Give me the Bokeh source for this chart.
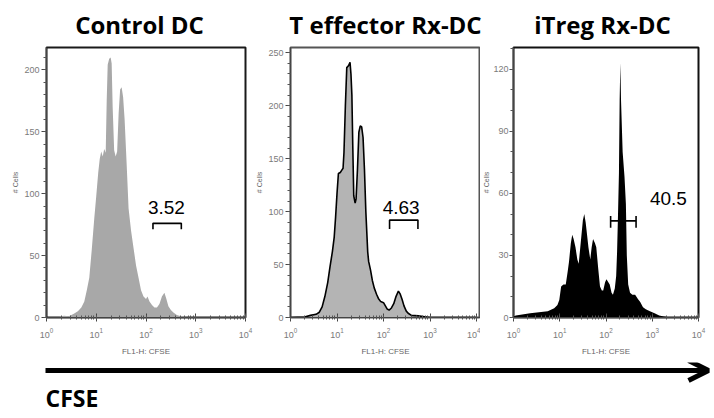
import numpy as np
from bokeh.plotting import figure
from bokeh.layouts import row, column
from bokeh.models import Range1d, FixedTicker, Arrow, OpenHead
from bokeh.core.properties import value
from bokeh.embed import file_html
from bokeh.resources import INLINE

# ---------------- data ----------------
titles = ["Control DC", "T effector Rx-DC", "iTreg Rx-DC"]
gate_pcts = ["3.52", "4.63", "40.5"]
x_label = "FL1-H: CFSE"
y_label = "# Cells"
bottom_label = "CFSE"

# Control DC histogram (log10 CFSE, cell count)
ctrl_log = [0.0, 0.25, 0.35, 0.45, 0.55, 0.63, 0.70, 0.76, 0.81, 0.86, 0.91, 0.96,
            1.00, 1.04, 1.07, 1.10, 1.13, 1.16, 1.19, 1.21, 1.23, 1.26, 1.29, 1.31,
            1.33, 1.36, 1.39, 1.42, 1.45, 1.48, 1.51, 1.54, 1.57, 1.61, 1.65, 1.70,
            1.75, 1.80, 1.85, 1.90, 1.95, 2.00, 2.03, 2.07, 2.12, 2.17, 2.22, 2.27,
            2.32, 2.37, 2.41, 2.45, 2.50, 2.55, 2.62, 2.70, 2.85, 3.0, 4.0]
ctrl_cnt = [0, 0.5, 1.5, 1, 3, 5, 8, 13, 22, 32, 55, 80,
            98, 117, 128, 134, 130, 136, 133, 175, 204, 209, 210, 205,
            170, 135, 130, 134, 165, 184, 186, 178, 160, 125, 88, 70,
            56, 42, 32, 22, 17, 15, 17, 13, 10, 8, 8, 11,
            17, 20, 15, 9, 6, 4, 2, 1, 0.5, 0, 0]

# T effector Rx-DC histogram
teff_log = [0.0, 0.3, 0.43, 0.55, 0.62, 0.68, 0.74, 0.80, 0.85, 0.90, 0.94, 0.97,
            1.00, 1.03, 1.07, 1.10, 1.13, 1.15, 1.18, 1.21, 1.25, 1.28, 1.30, 1.32,
            1.34, 1.36, 1.39, 1.41, 1.44, 1.47, 1.50, 1.53, 1.56, 1.59, 1.62, 1.66,
            1.68, 1.72, 1.76, 1.80, 1.85, 1.89, 1.94, 2.00, 2.04, 2.08, 2.12, 2.17,
            2.22, 2.27, 2.32, 2.36, 2.40, 2.44, 2.49, 2.53, 2.60, 2.75, 2.85, 3.0, 4.0]
teff_cnt = [0, 0.5, 2, 3, 5, 10, 20, 33, 48, 62, 76, 95,
            117, 136, 137, 139, 141, 156, 200, 236, 238, 241, 230, 210,
            160, 115, 108, 112, 140, 175, 181, 180, 170, 140, 100, 62,
            53, 45, 35, 28, 22, 18, 15, 14, 11, 8, 7, 9,
            13, 20, 25, 22, 17, 11, 6, 4, 2, 1.5, 1, 0, 0]

# iTreg Rx-DC histogram
itreg_log = [0.0, 0.05, 0.36, 0.55, 0.74, 0.88, 0.95, 0.99, 1.03, 1.08, 1.13, 1.17,
             1.20, 1.24, 1.27, 1.30, 1.34, 1.38, 1.41, 1.44, 1.47, 1.50, 1.53, 1.56,
             1.58, 1.62, 1.66, 1.69, 1.72, 1.76, 1.79, 1.83, 1.87, 1.91, 1.94, 1.98,
             2.01, 2.05, 2.08, 2.12, 2.15, 2.19, 2.22, 2.24, 2.26, 2.28, 2.295, 2.31,
             2.325, 2.36, 2.40, 2.43, 2.45, 2.48, 2.52, 2.57, 2.63, 2.69, 2.74, 2.80,
             2.86, 2.95, 3.05, 3.15, 3.25, 3.4, 4.0]
itreg_cnt = [0.5, 1, 2, 2.5, 3, 4.5, 6, 8.5, 15, 16, 16, 22,
             27, 36, 40, 38, 34, 28, 26, 33, 40, 47, 50, 46,
             42, 34, 28, 34, 38, 36, 34, 24, 15, 13, 13, 17,
             18.5, 17, 16, 12, 11, 14, 20, 32, 50, 70, 105, 123,
             105, 80, 68, 55, 30, 16, 12, 11, 11, 9, 7.5, 5,
             4, 3, 2, 1, 0.5, 0, 0]

# gates (log10 CFSE limits, count level) and label anchors (text centre)
gate_lo_log = [2.14, 2.13, 2.10]
gate_hi_log = [2.71, 2.74, 2.65]
gate_level = [76, 92, 46.7]
label_log = [2.41, 2.38, 3.35]
label_level = [89, 104, 57.4]

# y-axis ticks and ranges
y_major = [[0, 50, 100, 150, 200], [0, 50, 100, 150, 200, 250], [0, 30, 60, 90, 120]]
y_top = [218, 255, 130.5]
x_top = [1e4, 12170, 1e4]

# ---------------- styling ----------------
TICK_FONT = "Liberation Sans"
TICK_COLOR = "#7a7a7a"
TITLE_H = 40

panel_geom = [
    dict(w=253, h=322, bl=46, br=8, bt=2, bb=45, fh=275),
    dict(w=227, h=322, bl=35, br=0, bt=7, bb=40, fh=275),
    dict(w=234, h=322, bl=26, br=16, bt=7, bb=41, fh=274),
]
fill_colors = ["#a8a8a8", "#b4b4b4", "#000000"]
outline_colors = ["#1a1a1a", "#555555", "#111111"]
title_x_px = [139, 385, 602]
title_y_px = [23.5, 23.5, 23.5]
bracket_px = [6, 9, 0]

data_log = [ctrl_log, teff_log, itreg_log]
data_cnt = [ctrl_cnt, teff_cnt, itreg_cnt]

# title strip across the top
pt = figure(width=714, height=TITLE_H, x_range=Range1d(0, 714), y_range=Range1d(TITLE_H, 0),
            output_backend="svg", toolbar_location=None, title=None,
            min_border=0, min_border_left=0, min_border_right=0,
            min_border_top=0, min_border_bottom=0)
pt.axis.visible = False
pt.grid.visible = False
pt.outline_line_color = None
pt.text(x=title_x_px, y=title_y_px, text=titles, text_align="center",
        text_baseline="middle", text_font=value("Open Sans"),
        text_font_style="bold", text_font_size="24px", text_color="black")

panels = []
for i in range(3):
    g = panel_geom[i]
    p = figure(width=g["w"], height=g["h"], x_axis_type="log", title=None,
               x_range=Range1d(1, x_top[i]), y_range=Range1d(0, y_top[i]),
               output_backend="svg", toolbar_location=None,
               min_border_left=g["bl"], min_border_right=g["br"],
               min_border_top=g["bt"], min_border_bottom=g["bb"],
               background_fill_color="white", border_fill_color="white")
    p.grid.visible = False
    p.outline_line_color = outline_colors[i]
    p.outline_line_width = 2

    xs = 10 ** np.array(data_log[i])
    ys = np.array(data_cnt[i])
    p.varea(x=xs, y1=0, y2=ys, fill_color=fill_colors[i])
    if i == 1:
        p.line(x=xs, y=ys, line_color="black", line_width=1.6)

    # gate bracket
    lo = 10 ** gate_lo_log[i]
    hi = 10 ** gate_hi_log[i]
    lvl = gate_level[i]
    upp = y_top[i] / g["fh"]  # data units per pixel
    if i < 2:
        d = bracket_px[i] * upp
        p.line(x=[lo, lo, hi, hi], y=[lvl - d, lvl, lvl, lvl - d],
               line_color="black", line_width=1.6)
    else:
        p.multi_line(xs=[[lo, hi], [lo, lo], [hi, hi]],
                     ys=[[lvl, lvl], [lvl - 7 * upp, lvl + 5 * upp],
                         [lvl - 7 * upp, lvl + 5 * upp]],
                     line_color="black", line_width=1.6)
    p.text(x=[10 ** label_log[i]], y=[label_level[i]], text=[gate_pcts[i]],
           text_align="center", text_baseline="middle",
           text_font=value("Liberation Sans"), text_font_size="19px",
           text_color="black")

    # axes
    yax = p.yaxis[0]
    yax.ticker = FixedTicker(ticks=y_major[i],
                             minor_ticks=list(range(0, int(y_top[i]) + 1, 10)))
    yax.axis_label = y_label
    yax.axis_label_text_font = TICK_FONT
    yax.axis_label_text_font_size = "7px"
    yax.axis_label_text_font_style = "normal"
    yax.axis_label_text_color = "#666666"
    yax.axis_label_standoff = 2 if i < 2 else 0
    xax = p.xaxis[0]
    xax.axis_label = x_label
    xax.axis_label_text_font = TICK_FONT
    xax.axis_label_text_font_size = "8px"
    xax.axis_label_text_font_style = "normal"
    xax.axis_label_text_color = "#666666"
    xax.axis_label_standoff = 6
    for ax in (xax, yax):
        ax.major_label_text_font = TICK_FONT
        ax.major_label_text_font_size = "9px"
        ax.major_label_text_color = TICK_COLOR
        ax.axis_line_color = "#444444"
        ax.axis_line_width = 1.2
        ax.major_tick_line_color = "#444444"
        ax.minor_tick_line_color = "#555555"
    yax.major_label_standoff = 2 if i < 2 else 1
    xax.major_label_standoff = 6
    yax.major_tick_in = 0
    yax.major_tick_out = 5 if i < 2 else 4
    yax.minor_tick_in = 0
    yax.minor_tick_out = 3
    xax.major_tick_in = 4
    xax.major_tick_out = 4
    xax.minor_tick_in = 2
    xax.minor_tick_out = 2
    panels.append(p)

# bottom arrow strip
strip_h = 56
pa = figure(width=714, height=strip_h, x_range=Range1d(0, 714), y_range=Range1d(strip_h, 0),
            output_backend="svg", toolbar_location=None, title=None,
            min_border=0, min_border_left=0, min_border_right=0,
            min_border_top=0, min_border_bottom=0)
pa.axis.visible = False
pa.grid.visible = False
pa.outline_line_color = None
pa.add_layout(Arrow(end=OpenHead(size=20, line_width=5, line_color="black"),
                    x_start=45, y_start=8, x_end=708, y_end=8,
                    line_width=5, line_color="black"))
pa.text(x=[45], y=[35], text=[bottom_label], text_align="left",
        text_baseline="middle", text_font=value("Open Sans"),
        text_font_style="bold", text_font_size="23px", text_color="black")

layout = column(pt, row(*panels), pa)
open("out.html", "w").write(file_html(layout, INLINE))
